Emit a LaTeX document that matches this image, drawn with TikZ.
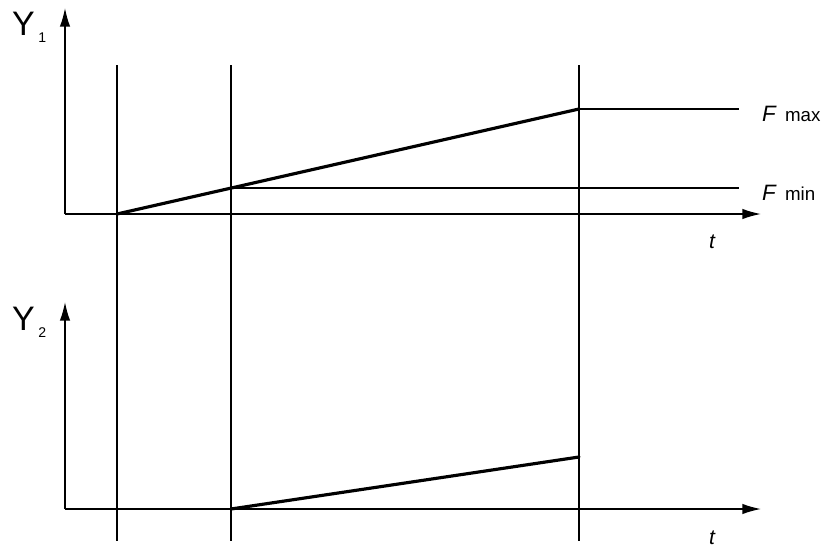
\documentclass[tikz,border=0pt]{standalone}
\usepackage{fontspec}
\setmainfont{Liberation Sans}
\usetikzlibrary{arrows.meta}

\tikzset{
  axis/.style={line width=1.3pt,-{Latex[length=16pt,width=9pt]}},
  guide/.style={line width=1.2pt},
  ramp/.style={line width=2.7pt,line cap=round},
  ylab/.style={inner sep=0pt,anchor=base west,font=\fontsize{29}{30}\selectfont},
  flab/.style={inner sep=0pt,anchor=base west,font=\fontsize{19}{20}\selectfont\itshape},
  tlab/.style={inner sep=0pt,font=\fontsize{18}{20}\selectfont\itshape}
}
\newcommand{\ysub}[1]{\hspace{3pt}\raisebox{-6pt}{\fontsize{12}{12}\selectfont #1}}
\newcommand{\fsub}[1]{\hspace{7pt}\textup{\fontsize{16}{16}\selectfont #1}}

\begin{document}
\begin{tikzpicture}[x=0.03cm,y=-0.03cm]
\useasboundingbox (0,0) rectangle (827,556);
% upper diagram
\coordinate (o1) at (65,214);
\coordinate (y1) at (65,8);
\coordinate (t1) at (761,214);
\coordinate (a1) at (117,65);
\coordinate (b1) at (231,65);
\coordinate (c1) at (579,65);
\coordinate (a2) at (117,541);
\coordinate (b2) at (231,541);
\coordinate (c2) at (579,541);
\coordinate (s1) at (117,214);
\coordinate (pmin) at (231,188);
\coordinate (pmax) at (579,109);
\coordinate (emin) at (739,188);
\coordinate (emax) at (739,109);
% lower diagram
\coordinate (o2) at (65,509);
\coordinate (y2) at (65,302);
\coordinate (t2) at (761,509);
\coordinate (s2) at (231,509);
\coordinate (e2) at (579,457);

\draw[axis] (o1) -- (y1);
\draw[axis] (o1) -- (t1);
\draw[axis] (o2) -- (y2);
\draw[axis] (o2) -- (t2);
\draw[guide] (a1) -- (a2);
\draw[guide] (b1) -- (b2);
\draw[guide] (c1) -- (c2);
\draw[guide] (pmin) -- (emin);
\draw[guide] (pmax) -- (emax);
\draw[ramp] (s1) -- (pmax);
\draw[ramp] (s2) -- (e2);

\node[ylab] (ly1) at (12,35) {Y\ysub{1}};
\node[ylab] (ly2) at (12,330) {Y\ysub{2}};
\node[flab] (lmax) at (762,121) {F\fsub{max}};
\node[flab] (lmin) at (762,200) {F\fsub{min}};
\node[tlab] (lt1) at (712,242) {t};
\node[tlab] (lt2) at (712,538) {t};
\end{tikzpicture}
\end{document}
